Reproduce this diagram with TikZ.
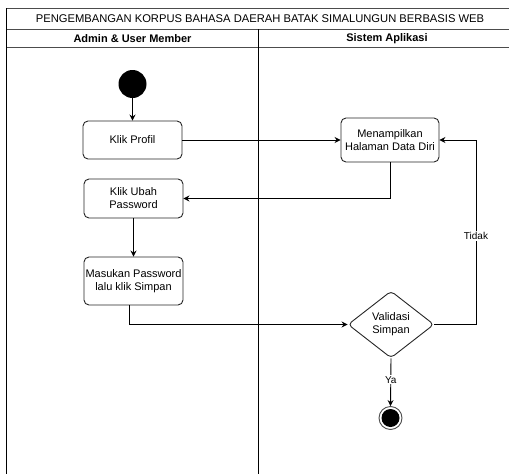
\documentclass[tikz,border=0pt]{standalone}
\usepackage{fontspec}
\setmainfont{Liberation Sans}
\usetikzlibrary{shapes.geometric,arrows.meta}
\begin{document}
\begin{tikzpicture}[x=1pt,y=-1pt,
  act/.style={draw=black!85,line width=0.9pt,rounded corners=5pt,fill=white,minimum width=99pt,align=center,font=\fontsize{11}{13}\selectfont,inner sep=1pt},
  dec/.style={diamond,draw=black!85,line width=0.9pt,rounded corners=4pt,fill=white,minimum width=86pt,minimum height=67pt,align=center,inner sep=0pt,font=\fontsize{11}{13}\selectfont},
  conn/.style={draw=black,line width=0.9pt,-{Stealth[length=6pt,width=6pt,inset=2pt]}},
  lbl/.style={fill=white,inner sep=1pt,font=\fontsize{10}{12}\selectfont},
  lane/.style={draw=black,line width=1.4pt},
  thin/.style={draw=black!70,line width=0.9pt},
  hdr/.style={font=\bfseries\fontsize{11}{13}\selectfont}
]
\useasboundingbox (0,0) rectangle (509,474);
% frame
\draw[thin] (6.5,8) -- (512,8);
\draw[thin] (6.5,29) -- (512,29);
\draw[thin] (6.5,47.5) -- (512,47.5);
\draw[lane] (6.5,8) -- (6.5,476);
\draw[lane] (258.5,29) -- (258.5,476);
\node[font=\fontsize{11.2}{13}\selectfont] (title) at (260,18.5) {PENGEMBANGAN KORPUS BAHASA DAERAH BATAK SIMALUNGUN BERBASIS WEB};
\node[hdr] (h1) at (132.5,38.5) {Admin \& User Member};
\node[hdr] (h2) at (387,38.5) {Sistem Aplikasi};
% nodes
\node[circle,fill=black,minimum size=28pt,inner sep=0pt] (start) at (132.5,84) {};
\node[act,minimum height=38pt] (kp) at (132.5,140) {Klik Profil};
\node[act,minimum height=44pt,minimum width=98pt] (md) at (390,140) {Menampilkan\\Halaman Data Diri};
\node[act,minimum height=39pt] (ku) at (133.5,198.5) {Klik Ubah\\Password};
\node[act,minimum height=48pt] (mp) at (133.5,281) {Masukan Password\\lalu klik Simpan};
\node[dec] (vs) at (391,324.5) {Validasi\\Simpan};
\node[circle,draw=black!70,line width=0.9pt,minimum size=23pt,inner sep=0pt,fill=white] (end) at (390.5,418) {};
\node[circle,fill=black,minimum size=18pt,inner sep=0pt] (endin) at (390.5,418) {};
\coordinate (rt) at (476,324.5);
% connectors
\draw[conn] (start) -- (kp);
\draw[conn] (kp) -- (md);
\draw[conn] (md.south) |- (ku.east);
\draw[conn] (ku) -- (mp);
\draw[conn] ([xshift=-4pt]mp.south) |- (vs.west);
\draw[conn] (vs.east) -- (rt) |- node[lbl,pos=0.24] {Tidak} (md.east);
\draw[conn] (vs.south) -- node[lbl,pos=0.45] {Ya} (end.north);
\end{tikzpicture}
\end{document}
